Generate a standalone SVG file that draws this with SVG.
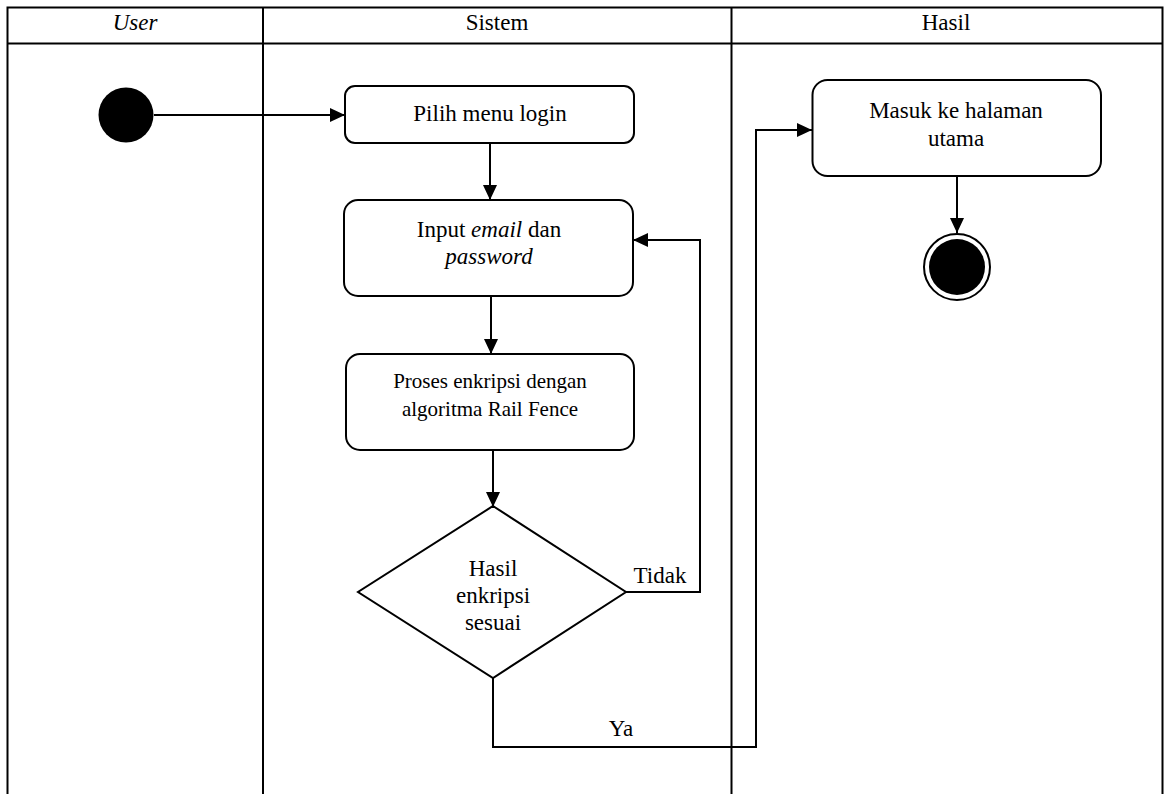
<svg xmlns="http://www.w3.org/2000/svg" width="1165" height="794" viewBox="0 0 1165 794">
  <defs>
    <marker id="arrow" viewBox="0 0 15 14" refX="15" refY="7" markerWidth="15" markerHeight="14" markerUnits="userSpaceOnUse" orient="auto">
      <path d="M0,0 L15,7 L0,14 Z" fill="#000"/>
    </marker>
    <style>
      .lane { stroke: #000; stroke-width: 2; fill: none; }
      .box { fill: #fff; stroke: #000; stroke-width: 2; }
      .conn { fill: none; stroke: #000; stroke-width: 2; }
      .label { font-family: "Liberation Serif", "Times New Roman", serif; font-size: 23px; fill: #000; text-anchor: middle; }
      .head { font-size: 23px; }
      .small { font-size: 21px; }
    </style>
  </defs>
  <rect width="1165" height="794" fill="#fff"/>

  <!-- swimlane table -->
  <g id="lanes">
    <path class="lane" d="M7.5,794 V7.5 H1162.5 V794 M7.5,43.5 H1162.5 M263,7.5 V794 M731.5,7.5 V794"/>
    <text class="label head" x="135" y="30" font-style="italic">User</text>
    <text class="label head" x="497" y="30">Sistem</text>
    <text class="label head" x="946" y="30">Hasil</text>
  </g>

  <!-- connectors -->
  <g id="connectors">
    <path class="conn" d="M154,115 H345" marker-end="url(#arrow)"/>
    <path class="conn" d="M490,143 V200" marker-end="url(#arrow)"/>
    <path class="conn" d="M491,296 V354" marker-end="url(#arrow)"/>
    <path class="conn" d="M493,450 V507" marker-end="url(#arrow)"/>
    <path class="conn" d="M626,592 H700 V240 H633" marker-end="url(#arrow)"/>
    <path class="conn" d="M493,678 V747 H756 V130 H812" marker-end="url(#arrow)"/>
    <path class="conn" d="M957,176 V233" marker-end="url(#arrow)"/>
    <text class="label" x="660" y="583">Tidak</text>
    <text class="label" x="621" y="736">Ya</text>
  </g>

  <g id="start">
    <circle cx="126" cy="115" r="27.5" fill="#000"/>
  </g>

  <g id="pilih-menu">
    <rect class="box" x="345" y="86" width="289" height="57" rx="10"/>
    <text class="label" x="490" y="121">Pilih menu login</text>
  </g>

  <g id="input-email">
    <rect class="box" x="344" y="200" width="289" height="96" rx="14"/>
    <text class="label" x="489" y="237">Input <tspan font-style="italic">email</tspan> dan</text>
    <text class="label" x="489" y="264" font-style="italic">password</text>
  </g>

  <g id="proses-enkripsi">
    <rect class="box" x="346" y="354" width="288" height="96" rx="14"/>
    <text class="label small" x="490" y="388">Proses enkripsi dengan</text>
    <text class="label small" x="490" y="416">algoritma Rail Fence</text>
  </g>

  <g id="decision">
    <polygon class="box" points="493,506 626,592 493,678 358,592"/>
    <text class="label" x="493" y="576">Hasil</text>
    <text class="label" x="493" y="603">enkripsi</text>
    <text class="label" x="493" y="630">sesuai</text>
  </g>

  <g id="halaman-utama">
    <rect class="box" x="812.5" y="80" width="288.5" height="96" rx="15"/>
    <text class="label" x="956" y="118">Masuk ke halaman</text>
    <text class="label" x="956" y="146">utama</text>
  </g>

  <g id="end">
    <circle cx="957" cy="267" r="33" fill="#fff" stroke="#000" stroke-width="2"/>
    <circle cx="957" cy="267" r="28" fill="#000"/>
  </g>
</svg>
